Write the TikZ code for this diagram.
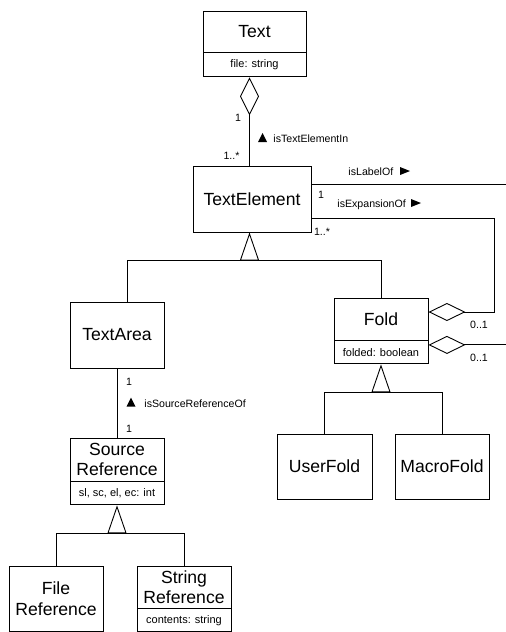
\documentclass[tikz,border=0pt]{standalone}
\usepackage{fontspec}
\setmainfont{Liberation Sans}
\usetikzlibrary{arrows.meta,calc}
\begin{document}
\begin{tikzpicture}[x=1pt,y=-1pt,line width=0.9pt,
  cls/.style={draw, inner sep=0pt, align=center, font=\fontsize{17.6}{20.5}\selectfont},
  attr/.style={draw, inner sep=0pt, anchor=north, font=\fontsize{11}{13}\selectfont},
  lbl/.style={inner sep=0pt, font=\fontsize{10.6}{12}\selectfont},
  gen/.style={-{Triangle[open,length=28pt,width=19pt]}},
  aggr/.style={-{Diamond[open,length=38pt,width=19pt]}},
  aggrh/.style={-{Diamond[open,length=37pt,width=18pt]}},
]
\useasboundingbox (0,0) rectangle (506,632);

% classes
\node[cls, minimum width=103pt, minimum height=41pt] (text) at (254.5,31.5) {Text};
\node[attr, minimum width=103pt, minimum height=24pt] (textattr) at (text.south) {file: string};

\node[cls, minimum width=118pt, minimum height=66pt] (te) at (252,199) {TextElement};

\node[cls, minimum width=94pt, minimum height=66pt] (ta) at (117,335) {TextArea};

\node[cls, minimum width=94pt, minimum height=43pt] (sr) at (117,459.5) {Source\\Reference};
\node[attr, minimum width=94pt, minimum height=23pt] (srattr) at (sr.south) {sl, sc, el, ec: int};

\node[cls, minimum width=94pt, minimum height=65pt] (fr) at (56,598.5) {File\\Reference};
\node[cls, minimum width=94pt, minimum height=42pt] (str) at (184,587) {String\\Reference};
\node[attr, minimum width=94pt, minimum height=23pt] (strattr) at (str.south) {contents: string};

\node[cls, minimum width=94pt, minimum height=42pt] (fold) at (381,319) {Fold};
\node[attr, minimum width=94pt, minimum height=23pt] (foldattr) at (fold.south) {folded: boolean};

\node[cls, minimum width=95pt, minimum height=65pt] (uf) at (324.5,466.5) {UserFold};
\node[cls, minimum width=94pt, minimum height=65pt] (mf) at (442,466.5) {MacroFold};

% helper coordinates
\coordinate (rim) at (506,0);
\coordinate (c2) at (494,0);

% aggregation Text <> TextElement
\draw[aggr] ([xshift=-2.5pt]te.north) -- ([xshift=-5pt]textattr.south);

% generalization TextElement
\coordinate (g1) at ([xshift=-2.5pt,yshift=-28pt]te.south);
\draw[gen] (g1) -- ([xshift=-2.5pt]te.south);
\draw ([xshift=10pt]ta.north) |- (g1) -| (fold.north);

% association TextArea - SourceReference
\draw (ta.south) -- (sr.north);

% generalization SourceReference
\coordinate (g2) at ([yshift=-28pt]srattr.south);
\draw[gen] (g2) -- (srattr.south);
\draw (fr.north) |- (g2) -| (str.north);

% generalization Fold
\coordinate (g3) at ([yshift=-28pt]foldattr.south);
\draw[gen] (g3) -- (foldattr.south);
\draw (uf.north) |- (g3) -| (mf.north);

% isLabelOf
\coordinate (e0) at ([yshift=15pt]te.east);
\draw (e0) -- (e0 -| rim);

% isExpansionOf
\coordinate (e1) at ([yshift=-19pt]te.east);
\coordinate (d1) at ([yshift=7pt]fold.east);
\draw[aggrh] (e1) -- (e1 -| c2) |- (d1);

% second aggregation on Fold
\coordinate (d2) at ([yshift=7.5pt]foldattr.east);
\draw[aggrh] (d2 -| rim) -- (d2);

% labels
\node[lbl, anchor=base] (m1) at (238,121) {1};
\node[lbl, anchor=base] (m2) at (231.5,159) {1..*};
\node[lbl, anchor=base west] (n1) at (273,142) {isTextElementIn};
\fill (258,142) -- (267,142) -- (262.5,133) -- cycle;

\node[lbl, anchor=base west] (n2) at (348,175) {isLabelOf};
\fill (400,167) -- (410,171) -- (400,175) -- cycle;
\node[lbl, anchor=base] (m3) at (321,198) {1};

\node[lbl, anchor=base west] (n3) at (337,207) {isExpansionOf};
\fill (411,199) -- (421,203) -- (411,207) -- cycle;
\node[lbl, anchor=base] (m4) at (322,235) {1..*};

\node[lbl, anchor=base] (m5) at (479,328) {0..1};
\node[lbl, anchor=base] (m6) at (479,361) {0..1};

\node[lbl, anchor=base] (m7) at (129,385) {1};
\node[lbl, anchor=base west] (n4) at (144,407) {isSourceReferenceOf};
\fill (126.5,406.5) -- (135.5,406.5) -- (131,397.5) -- cycle;
\node[lbl, anchor=base] (m8) at (129,432) {1};
\end{tikzpicture}
\end{document}
